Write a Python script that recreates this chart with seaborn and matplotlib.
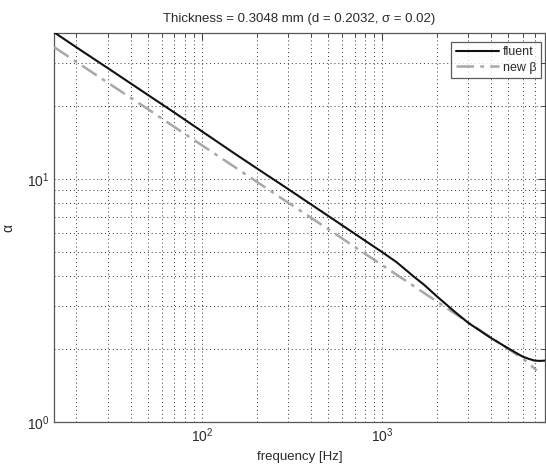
import matplotlib
matplotlib.use("Agg")
import matplotlib.pyplot as plt
import seaborn as sns
import numpy as np
import pandas as pd
from matplotlib.ticker import LogLocator, NullFormatter, LogFormatterMathtext

# ---- data ----
freq_fluent = [15, 20, 30, 50, 70, 100, 150, 200, 300, 500, 700, 1000, 1200, 1500,
               1700, 2000, 2500, 3000, 4000, 5000, 6000, 6500, 7000, 7500, 8000]
alpha_fluent = [40.3, 34.9, 28.6, 22.2, 18.8, 15.7, 12.8, 11.1, 9.10, 7.06, 5.97,
                5.0, 4.55, 3.96, 3.68, 3.30, 2.86, 2.56, 2.22, 2.01, 1.86, 1.82,
                1.79, 1.785, 1.79]

freq_newbeta = [15, 20, 30, 50, 70, 100, 150, 200, 300, 500, 700, 1000, 1500,
                2000, 3000, 4000, 5000, 6000, 7200]
alpha_newbeta = [35.0, 30.4, 24.9, 19.4, 16.4, 13.76, 11.27, 9.77, 8.0, 6.23, 5.27,
                 4.42, 3.62, 3.14, 2.57, 2.23, 2.0, 1.83, 1.63]

title = "Thickness = 0.3048 mm (d = 0.2032, \u03c3 = 0.02)"
xlabel = "frequency [Hz]"
ylabel = "\u03b1"
labels = ["fluent", "new \u03b2"]

sns.set_theme(style="white")
plt.rcParams['font.family'] = ['Liberation Sans', 'DejaVu Sans']
plt.rcParams['mathtext.fontset'] = 'custom'
plt.rcParams['mathtext.rm'] = 'Liberation Sans'
plt.rcParams['mathtext.it'] = 'Liberation Sans'

txt = "#2a2a2a"
fig = plt.figure(figsize=(5.46, 4.71), dpi=100)
ax = fig.add_axes([54/546, 49/471, 491/546, 389/471])

df1 = pd.DataFrame({"f": freq_fluent, "a": alpha_fluent})
df2 = pd.DataFrame({"f": freq_newbeta, "a": alpha_newbeta})
sns.lineplot(data=df2, x="f", y="a", ax=ax, color="#a8a8a8", lw=1.8,
             label=labels[1], zorder=3)
sns.lineplot(data=df1, x="f", y="a", ax=ax, color="#111111", lw=1.5,
             label=labels[0], zorder=4)
ax.lines[0].set_dashes([7, 2.5, 1.5, 2.5])

ax.set_xscale("log")
ax.set_yscale("log")
ax.set_xlim(15, 8000)
ax.set_ylim(1, 40)

ax.xaxis.set_major_locator(LogLocator(base=10))
ax.xaxis.set_minor_locator(LogLocator(base=10, subs=np.arange(2, 10)))
ax.yaxis.set_major_locator(LogLocator(base=10))
ax.yaxis.set_minor_locator(LogLocator(base=10, subs=np.arange(2, 10)))
ax.xaxis.set_minor_formatter(NullFormatter())
ax.yaxis.set_minor_formatter(NullFormatter())
ax.xaxis.set_major_formatter(LogFormatterMathtext())
ax.yaxis.set_major_formatter(LogFormatterMathtext())

ax.grid(True, which="both", linestyle=(0, (1, 3)), color="#333333", lw=0.7)
ax.tick_params(which="both", direction="in", top=True, right=True,
               colors="#444444", labelcolor=txt, labelsize=10)
ax.tick_params(which="major", length=5, width=0.8)
ax.tick_params(which="minor", length=3, width=0.7)
for s in ax.spines.values():
    s.set_color("#555555")
    s.set_linewidth(0.9)

ax.set_title(title, fontsize=9.5, color=txt, pad=8)
ax.set_xlabel(xlabel, fontsize=9.5, color=txt, labelpad=4)
ax.set_ylabel(ylabel, fontsize=10, color=txt, labelpad=8)

handles, labs = ax.get_legend_handles_labels()
order = [labs.index(labels[0]), labs.index(labels[1])]
leg = ax.legend([handles[i] for i in order], [labs[i] for i in order],
                loc="upper right", bbox_to_anchor=(0.992, 0.978),
                fontsize=9, frameon=True, fancybox=False, handlelength=3.5,
                handletextpad=0.3, borderpad=0.35, labelspacing=0.3,
                borderaxespad=0)
leg.get_frame().set_edgecolor("#333333")
leg.get_frame().set_linewidth(0.9)
for t in leg.get_texts():
    t.set_color(txt)

fig.savefig("out.png", dpi=100)
